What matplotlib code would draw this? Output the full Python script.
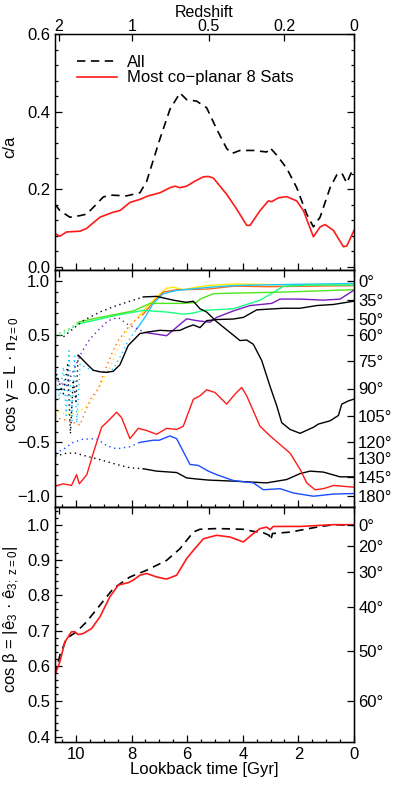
import numpy as np
import matplotlib
matplotlib.use("Agg")
import matplotlib.pyplot as plt
from matplotlib.ticker import MultipleLocator, FixedLocator, NullFormatter

plt.rcParams['font.family'] = ['Liberation Sans', 'DejaVu Sans']
plt.rcParams['mathtext.fontset'] = 'custom'
plt.rcParams['mathtext.rm'] = 'Liberation Sans'
plt.rcParams['mathtext.it'] = 'Liberation Sans'
plt.rcParams['mathtext.bf'] = 'Liberation Sans'
plt.rcParams['lines.scale_dashes'] = False

# ---------------- data ----------------
# panel 1: axis ratio c/a
t_ca_all = [10.76, 10.58, 10.22, 9.86, 9.62, 9.38, 9.02, 8.78, 8.18, 7.70, 7.46, 6.98, 6.62, 6.26, 6.02,
            5.66, 5.30, 4.94, 4.58, 4.40, 4.10, 3.62, 3.14, 3.02, 2.78, 2.42, 2.06, 1.70, 1.46, 1.22,
            0.86, 0.62, 0.44, 0.26, 0.08, 0.0]
ca_all = [0.162, 0.145, 0.128, 0.132, 0.136, 0.153, 0.180, 0.185, 0.183, 0.191, 0.220, 0.330, 0.406, 0.448, 0.431,
          0.427, 0.410, 0.355, 0.305, 0.292, 0.300, 0.300, 0.296, 0.307, 0.288, 0.254, 0.204, 0.136, 0.103, 0.128,
          0.204, 0.237, 0.242, 0.216, 0.246, 0.250]
t_ca_8 = [10.76, 10.58, 10.34, 9.86, 9.62, 9.14, 8.66, 8.42, 8.06, 7.70, 7.40, 6.98, 6.62, 6.44, 6.26, 6.02,
          5.72, 5.42, 5.24, 5.06, 4.58, 4.22, 3.86, 3.74, 3.38, 3.08, 2.96, 2.72, 2.42, 2.06, 1.82, 1.46,
          1.22, 1.04, 0.74, 0.38, 0.26, 0.0]
ca_8 = [0.086, 0.079, 0.090, 0.092, 0.099, 0.128, 0.141, 0.145, 0.166, 0.174, 0.183, 0.191, 0.204, 0.208, 0.204, 0.208,
        0.221, 0.232, 0.233, 0.229, 0.187, 0.149, 0.107, 0.107, 0.145, 0.170, 0.168, 0.178, 0.181, 0.170, 0.145, 0.0775,
        0.103, 0.109, 0.094, 0.052, 0.054, 0.094]

# panel 2: cos(gamma) of satellite orbital poles
t_blackA = [10.45, 10.33, 9.74, 9.14, 8.54, 8.06, 7.58, 7.10, 6.50, 6.04, 5.78, 5.54, 5.30, 4.94, 4.46, 4.10,
            3.86, 3.62, 3.32, 3.02, 2.78, 2.60, 2.30, 1.94, 1.46, 1.28, 0.86, 0.56, 0.44, 0.20, 0.02]
v_blackA = [0.48, 0.507, 0.63, 0.71, 0.77, 0.81, 0.85, 0.855, 0.82, 0.80, 0.81, 0.74, 0.71, 0.62, 0.52, 0.445,
            0.45, 0.41, 0.26, 0.02, -0.16, -0.317, -0.38, -0.416, -0.36, -0.33, -0.30, -0.25, -0.145, -0.115, -0.10]
t_blackB = [10.75, 10.6, 10.45, 10.3, 10.2, 10.1, 10.0, 9.92, 9.62, 9.38, 9.14, 8.9, 8.66, 8.42, 8.12, 7.70,
            7.40, 6.98, 6.62, 6.26, 6.0, 5.78, 5.54, 5.30, 4.94, 4.34, 3.98, 3.50, 2.54, 1.94, 1.34, 0.74, 0.02]
v_blackB = [0.18, 0.05, -0.05, 0.22, -0.42, 0.08, -0.12, 0.31, 0.23, 0.17, 0.155, 0.15, 0.16, 0.22, 0.40, 0.51,
            0.525, 0.54, 0.535, 0.54, 0.57, 0.59, 0.565, 0.63, 0.64, 0.645, 0.66, 0.73, 0.745, 0.745, 0.77, 0.78, 0.81]
t_blackC = [10.75, 10.33, 10.03, 9.6, 9.14, 8.54, 8.06, 7.58, 7.10, 6.38, 6.02, 5.66, 5.24, 4.34, 3.14, 2.42,
            1.94, 1.58, 1.10, 0.50, 0.02]
v_blackC = [-0.627, -0.60, -0.60, -0.63, -0.66, -0.705, -0.736, -0.745, -0.767, -0.78, -0.83, -0.84, -0.85, -0.86, -0.876, -0.845,
            -0.79, -0.767, -0.776, -0.82, -0.82]
t_red = [10.75, 10.46, 10.16, 9.98, 9.88, 9.61, 9.38, 9.08, 8.78, 8.54, 8.36, 8.06, 7.76, 7.46, 7.10, 6.74,
         6.38, 6.14, 5.78, 5.54, 5.30, 5.00, 4.58, 4.28, 4.04, 3.86, 3.38, 3.02, 2.66, 2.30, 1.94, 1.70,
         1.40, 1.10, 0.74, 0.02]
v_red = [-0.907, -0.885, -0.90, -0.80, -0.885, -0.80, -0.60, -0.36, -0.285, -0.22, -0.27, -0.466, -0.37, -0.39, -0.425, -0.37,
         -0.38, -0.35, -0.10, -0.068, -0.012, -0.037, -0.145, -0.052, 0.01, -0.068, -0.35, -0.44, -0.52, -0.60, -0.75, -0.876,
         -0.94, -0.93, -0.90, -0.916]
t_blue = [10.75, 10.46, 10.1, 9.74, 9.26, 8.9, 8.54, 8.06, 7.70, 7.22, 7.0, 6.62, 6.38, 5.90, 5.60, 5.24,
          4.94, 4.34, 3.62, 3.26, 2.66, 2.18, 1.46, 0.74, 0.02]
v_blue = [-0.60, -0.565, -0.50, -0.47, -0.466, -0.53, -0.56, -0.54, -0.50, -0.48, -0.48, -0.44, -0.466, -0.705, -0.714, -0.767,
          -0.80, -0.854, -0.876, -0.94, -0.93, -0.97, -1.0, -0.98, -0.975]
t_yellow = [10.75, 10.69, 10.45, 10.2, 9.85, 9.61, 9.38, 9.14, 8.78, 8.54, 8.30, 8.0, 7.76, 7.46, 7.10, 6.74,
            6.50, 6.14, 5.66, 5.18, 4.34, 3.14, 0.02]
v_yellow = [-0.18, -0.21, -0.23, -0.24, -0.21, -0.16, -0.10, 0.025, 0.195, 0.35, 0.475, 0.60, 0.66, 0.755, 0.85, 0.93,
            0.94, 0.917, 0.94, 0.957, 0.97, 0.965, 0.96]
t_orange = [10.75, 10.58, 10.28, 10.04, 9.86, 9.61, 9.44, 9.2, 8.96, 8.72, 8.48, 8.12, 7.88, 7.58, 7.22, 6.86,
            6.38, 5.66, 5.18, 4.34, 3.14, 0.02]
v_orange = [-0.25, -0.28, -0.30, -0.32, -0.34, -0.18, -0.08, -0.006, 0.165, 0.32, 0.445, 0.57, 0.63, 0.69, 0.80, 0.895,
            0.917, 0.92, 0.925, 0.95, 0.945, 0.955]
t_cyan = [10.75, 10.6, 10.45, 10.35, 10.25, 10.15, 10.05, 9.97, 9.85, 9.60, 9.38, 8.96, 8.66, 8.36, 8.12, 7.82,
          7.52, 7.22, 6.86, 6.38, 6.0, 5.18, 4.34, 2.54, 0.02]
v_cyan = [0.22, -0.10, 0.20, -0.25, 0.35, -0.30, 0.30, -0.32, 0.227, 0.19, 0.165, 0.15, 0.18, 0.32, 0.445, 0.55,
          0.66, 0.79, 0.88, 0.91, 0.92, 0.94, 0.955, 0.965, 0.975]
t_lime = [10.75, 10.5, 10.2, 9.92, 9.38, 8.54, 7.94, 7.34, 6.86, 6.14, 5.66, 5.54, 5.06, 4.34, 2.54, 0.02]
v_lime = [0.49, 0.53, 0.56, 0.615, 0.647, 0.69, 0.72, 0.79, 0.79, 0.79, 0.80, 0.83, 0.88, 0.885, 0.895, 0.917]
t_spring = [10.75, 10.4, 9.92, 9.38, 8.54, 7.58, 6.74, 6.14, 5.78, 5.42, 4.34, 3.38, 2.78, 2.54, 1.5, 0.02]
v_spring = [0.47, 0.52, 0.60, 0.63, 0.68, 0.725, 0.71, 0.69, 0.70, 0.725, 0.74, 0.82, 0.91, 0.95, 0.96, 0.96]
t_purple = [10.64, 10.35, 10.1, 9.80, 9.50, 9.20, 8.84, 8.48, 8.18, 7.76, 7.52, 6.74, 6.02, 5.66, 5.18, 4.94,
            4.34, 3.74, 2.96, 2.66, 1.94, 1.10, 0.50, 0.02]
v_purple = [0.07, 0.02, 0.16, 0.335, 0.46, 0.54, 0.63, 0.66, 0.60, 0.55, 0.52, 0.49, 0.647, 0.63, 0.615, 0.66,
            0.72, 0.77, 0.79, 0.83, 0.83, 0.82, 0.83, 0.91]

# panel 3: cos(beta) of plane normal
t_cb_all = [10.76, 10.58, 10.34, 9.98, 9.62, 9.14, 8.66, 8.06, 7.46, 6.74, 6.26, 5.78, 5.54, 4.94, 3.98, 3.62,
            3.26, 3.05, 3.0, 2.93, 2.30, 1.34, 0.74, 0.0]
cb_all = [0.574, 0.63, 0.678, 0.697, 0.725, 0.772, 0.819, 0.852, 0.871, 0.899, 0.932, 0.979, 0.987, 0.989, 0.987, 0.981,
          0.977, 0.97, 0.956, 0.975, 0.979, 0.993, 1.0, 0.998]
t_cb_8 = [10.76, 10.58, 10.40, 10.16, 10.05, 9.92, 9.74, 9.44, 9.14, 8.78, 8.48, 8.12, 7.94, 7.70, 7.46, 7.10,
          6.74, 6.38, 6.02, 5.78, 5.42, 4.94, 4.46, 3.98, 3.62, 3.38, 3.14, 3.02, 2.90, 1.94, 0.74, 0.0]
cb_8 = [0.574, 0.612, 0.668, 0.697, 0.697, 0.689, 0.692, 0.706, 0.739, 0.796, 0.829, 0.836, 0.843, 0.857, 0.862, 0.852,
        0.846, 0.857, 0.904, 0.927, 0.96, 0.97, 0.965, 0.951, 0.975, 0.989, 0.993, 0.986, 0.995, 0.995, 1.0, 1.0]

z_ticks = [2, 1, 0.5, 0.2, 0]
z_lookback = [10.62, 7.99, 5.22, 2.50, 0.0]
ang2 = [0, 35, 50, 60, 75, 90, 105, 120, 130, 145, 180]
ang3 = [0, 20, 30, 40, 50, 60]

# ---------------- styling ----------------
FS = 12
FS_TOP = 11.5
W, H = 393, 786
fig = plt.figure(figsize=(W / 100, H / 100), dpi=100)
left, right = 55 / W, 354 / W
tops = [34, 270, 507]
bots = [270, 507, 742]
axes = []
for tp, bt in zip(tops, bots):
    axes.append(fig.add_axes([left, 1 - bt / H, right - left, (bt - tp) / H]))
ax1, ax2, ax3 = axes

def style(ax):
    ax.set_xlim(10.755, 0)
    for s in ax.spines.values():
        s.set_linewidth(1.0)
    ax.xaxis.set_major_locator(MultipleLocator(2))
    ax.xaxis.set_minor_locator(MultipleLocator(0.5))
    ax.tick_params(which='both', direction='in', labelsize=FS, top=False, width=0.9, pad=3.5)
    ax.tick_params(which='major', length=5)
    ax.tick_params(which='minor', length=2.5)
    tw = ax.twiny()
    tw.set_xlim(ax.get_xlim())
    tw.xaxis.set_major_locator(FixedLocator(z_lookback))
    tw.xaxis.set_minor_locator(FixedLocator([]))
    tw.tick_params(direction='in', length=5, width=0.9, labelsize=FS_TOP, pad=0)
    return tw

DOT = (0, (1.0, 2.6))
DASH = (0, (6, 4))

# panel 1
tw1 = style(ax1)
tw1.set_xticklabels([str(z) for z in z_ticks])
tw1.set_xlabel('Redshift', fontsize=FS_TOP, labelpad=1.5)
ax1.set_ylim(-0.008, 0.6)
ax1.yaxis.set_major_locator(MultipleLocator(0.2))
ax1.yaxis.set_minor_locator(MultipleLocator(0.04))
ax1.tick_params(axis='y', which='both', right=True)
ax1.set_yticks([0, 0.2, 0.4, 0.6])
ax1.set_yticklabels(['0.0', '0.2', '0.4', '0.6'])
ax1.xaxis.set_major_formatter(NullFormatter())
ax1.plot(t_ca_all, ca_all, color='black', lw=1.2, ls=DASH, label='All')
ax1.plot(t_ca_8, ca_8, color='#ff1a1a', lw=1.2, label='Most co\u2212planar 8 Sats')
ax1.legend(loc='upper left', bbox_to_anchor=(0.035, 0.962), frameon=False, fontsize=FS,
           handlelength=2.4, handletextpad=0.6, labelspacing=0.05, borderpad=0.2)
ax1.set_ylabel('c/a', fontsize=FS)
ax1.yaxis.set_label_coords(-0.125, 0.52)

# panel 2
tw2 = style(ax2)
tw2.set_xticklabels([])
ax2.set_ylim(-1.1, 1.1)
ax2.set_yticks([-1, -0.5, 0, 0.5, 1])
ax2.set_yticklabels(['\u22121.0', '\u22120.5', '0.0', '0.5', '1.0'])
ax2.yaxis.set_minor_locator(MultipleLocator(0.1))
ax2.xaxis.set_major_formatter(NullFormatter())
ax2.tick_params(axis='y', which='both', right=False)
r2 = ax2.twinx()
r2.set_ylim(-1.1, 1.1)
r2.set_yticks([np.cos(np.radians(a)) for a in ang2])
r2.set_yticklabels(['%d\u00b0' % a for a in ang2])
r2.tick_params(direction='in', length=5, width=0.9, labelsize=FS, pad=3)

series = [
    (t_yellow, v_yellow, '#ffe600', 7.76),
    (t_orange, v_orange, '#ff6a1a', 7.58),
    (t_cyan, v_cyan, '#1ac8ff', 7.82),
    (t_spring, v_spring, '#1aff80', 9.92),
    (t_lime, v_lime, '#4de61a', 9.92),
    (t_purple, v_purple, '#7a1ac0', 7.52),
    (t_blackA, v_blackA, 'black', 7.58),
    (t_blackB, v_blackB, 'black', 9.92),
    (t_blackC, v_blackC, 'black', 7.58),
    (t_blue, v_blue, '#1a4dff', 7.70),
    (t_red, v_red, '#ff1a1a', 11.0),
]
for t, v, c, split in series:
    t = np.asarray(t); v = np.asarray(v)
    k = int(np.argmax(t <= split))
    if k > 0:
        ax2.plot(t[:k + 1], v[:k + 1], color=c, lw=1.0, ls=DOT)
    ax2.plot(t[k:], v[k:], color=c, lw=1.0)
ax2.set_ylabel('cos \u03b3 = L \u00b7 $\\mathregular{n_{z=0}}$', fontsize=FS)
ax2.yaxis.set_label_coords(-0.115, 0.56)

# panel 3
tw3 = style(ax3)
tw3.set_xticklabels([])
ax3.set_ylim(0.385, 1.05)
ax3.set_yticks([0.4, 0.5, 0.6, 0.7, 0.8, 0.9, 1.0])
ax3.yaxis.set_minor_locator(MultipleLocator(0.02))
ax3.tick_params(axis='y', which='both', right=False)
r3 = ax3.twinx()
r3.set_ylim(0.385, 1.05)
r3.set_yticks([np.cos(np.radians(a)) for a in ang3])
r3.set_yticklabels(['%d\u00b0' % a for a in ang3])
r3.tick_params(direction='in', length=5, width=0.9, labelsize=FS, pad=3)
ax3.plot(t_cb_all, cb_all, color='black', lw=1.2, ls=DASH)
ax3.plot(t_cb_8, cb_8, color='#ff1a1a', lw=1.2)
ax3.set_xticks([10, 8, 6, 4, 2, 0])
ax3.set_xticklabels(['10', '8', '6', '4', '2', '0'])
ax3.set_xlabel('Lookback time [Gyr]', fontsize=FS, labelpad=0)
ax3.set_ylabel('cos \u03b2 = |\u00ea$\\mathregular{_3}$ \u00b7 \u00ea$\\mathregular{_{3;\\ z=0}}$|', fontsize=FS)
ax3.yaxis.set_label_coords(-0.11, 0.52)

fig.savefig('out.png', dpi=100)
